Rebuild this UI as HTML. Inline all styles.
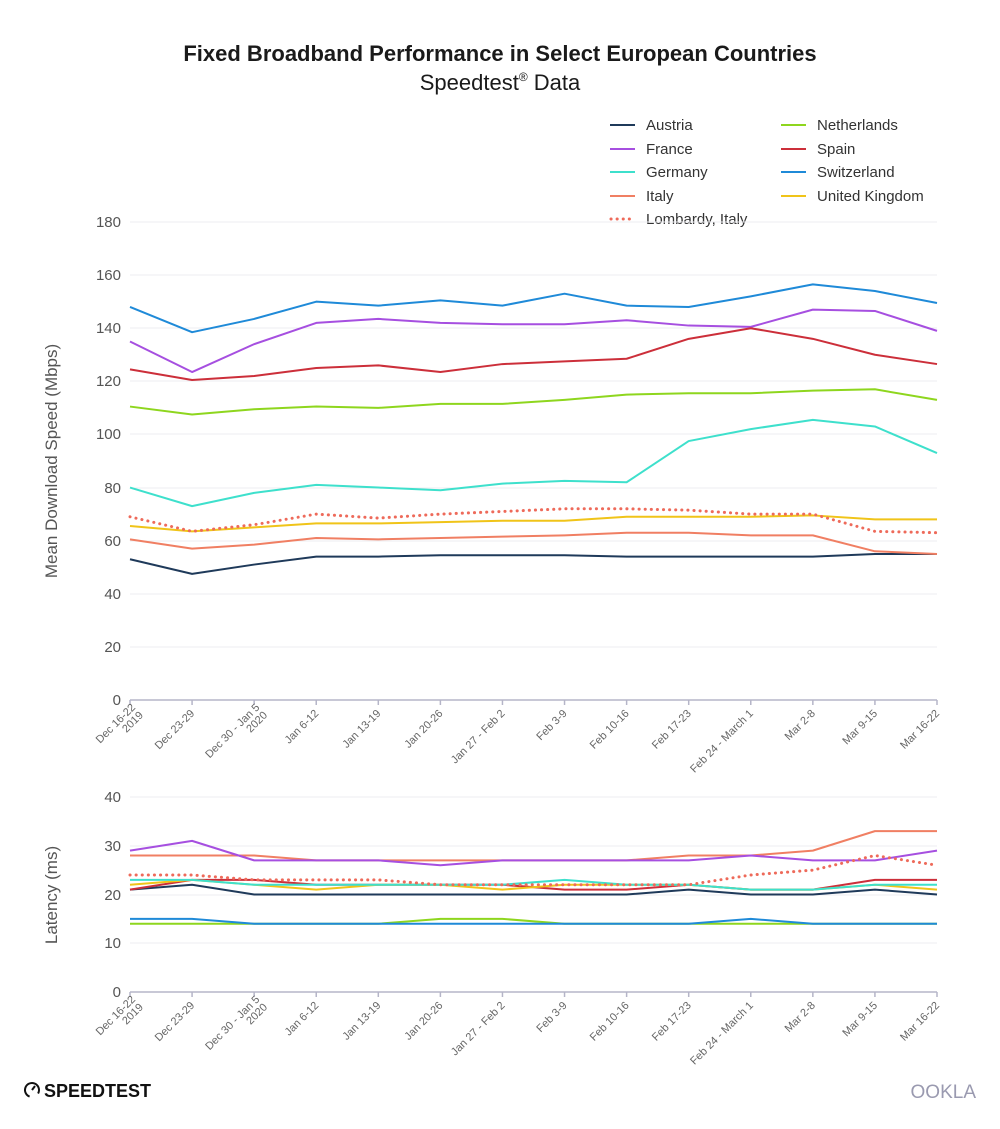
<!DOCTYPE html>
<html><head><meta charset="utf-8"><style>
body{margin:0;background:#fff}
svg{display:block;font-family:"Liberation Sans",sans-serif}
</style></head><body>
<svg width="1000" height="1129" viewBox="0 0 1000 1129">
<text x="500" y="61" text-anchor="middle" font-size="22" font-weight="bold" fill="#1a1a1a">Fixed Broadband Performance in Select European Countries</text>
<text x="500" y="90" text-anchor="middle" font-size="22" fill="#1a1a1a">Speedtest<tspan font-size="12" dy="-9">®</tspan><tspan dy="9"> Data</tspan></text>
<g font-size="15" fill="#333">
<line x1="610" y1="125" x2="635" y2="125" stroke="#1f3a5a" stroke-width="2"/><text x="646" y="130">Austria</text>
<line x1="610" y1="149" x2="635" y2="149" stroke="#a64fe0" stroke-width="2"/><text x="646" y="154">France</text>
<line x1="610" y1="172" x2="635" y2="172" stroke="#3ee0cc" stroke-width="2"/><text x="646" y="177">Germany</text>
<line x1="610" y1="196" x2="635" y2="196" stroke="#f07f63" stroke-width="2"/><text x="646" y="201">Italy</text>
<line x1="611" y1="219" x2="635" y2="219" stroke="#ee6a5a" stroke-width="3" stroke-linecap="round" stroke-dasharray="0.1 6"/><text x="646" y="224">Lombardy, Italy</text>
<line x1="781" y1="125" x2="806" y2="125" stroke="#8ed61e" stroke-width="2"/><text x="817" y="130">Netherlands</text>
<line x1="781" y1="149" x2="806" y2="149" stroke="#cc2f3a" stroke-width="2"/><text x="817" y="154">Spain</text>
<line x1="781" y1="172" x2="806" y2="172" stroke="#1f8ad8" stroke-width="2"/><text x="817" y="177">Switzerland</text>
<line x1="781" y1="196" x2="806" y2="196" stroke="#f0c419" stroke-width="2"/><text x="817" y="201">United Kingdom</text>
</g>
<g stroke="#ececf0" stroke-width="1">
<line x1="130" x2="937" y1="222" y2="222"/><line x1="130" x2="937" y1="275" y2="275"/><line x1="130" x2="937" y1="328" y2="328"/><line x1="130" x2="937" y1="381" y2="381"/><line x1="130" x2="937" y1="434" y2="434"/><line x1="130" x2="937" y1="488" y2="488"/><line x1="130" x2="937" y1="541" y2="541"/><line x1="130" x2="937" y1="594" y2="594"/><line x1="130" x2="937" y1="647" y2="647"/>
<line x1="130" x2="937" y1="797" y2="797"/><line x1="130" x2="937" y1="846" y2="846"/><line x1="130" x2="937" y1="895" y2="895"/><line x1="130" x2="937" y1="943" y2="943"/>
</g>
<g font-size="15" fill="#555" text-anchor="end">
<text x="121" y="227">180</text><text x="121" y="280">160</text><text x="121" y="333">140</text><text x="121" y="386">120</text><text x="121" y="439">100</text><text x="121" y="493">80</text><text x="121" y="546">60</text><text x="121" y="599">40</text><text x="121" y="652">20</text><text x="121" y="705">0</text>
<text x="121" y="802">40</text><text x="121" y="851">30</text><text x="121" y="900">20</text><text x="121" y="948">10</text><text x="121" y="997">0</text>
</g>
<text transform="translate(57,461) rotate(-90)" text-anchor="middle" font-size="17" fill="#555">Mean Download Speed (Mbps)</text>
<text transform="translate(57,895) rotate(-90)" text-anchor="middle" font-size="17" fill="#555">Latency (ms)</text>
<g stroke="#b5b5c8" stroke-width="1.5">
<line x1="130" x2="937" y1="700" y2="700"/><line x1="130" x2="937" y1="992" y2="992"/>
</g>
<g id="ticks" stroke="#b5b5c8" stroke-width="1.5"></g>
<g id="labels" font-size="11" fill="#666" text-anchor="end"></g>
<g id="gtop" transform="translate(130,700) scale(62.077,-2.6556)" fill="none" stroke-width="2" stroke-linejoin="round"></g>
<g id="gbot" transform="translate(130,992) scale(62.077,-4.875)" fill="none" stroke-width="2" stroke-linejoin="round"></g>
<g transform="translate(24,1090)">
<circle cx="8" cy="0" r="7" fill="none" stroke="#111" stroke-width="2" stroke-dasharray="34 10" transform="rotate(110 8 0)"/>
<line x1="8" y1="0" x2="11" y2="-4" stroke="#111" stroke-width="2"/>
<text x="20" y="7" font-size="18" font-weight="bold" fill="#111">SPEEDTEST</text>
</g>
<text x="976" y="1098" text-anchor="end" font-size="19" fill="#9a9ab0">OOKLA</text>
</svg>
<script>
(function(){
var ns="http://www.w3.org/2000/svg";
var labs=[["Dec 16-22","2019"],["Dec 23-29"],["Dec 30 - Jan 5","2020"],["Jan 6-12"],["Jan 13-19"],["Jan 20-26"],["Jan 27 - Feb 2"],["Feb 3-9"],["Feb 10-16"],["Feb 17-23"],["Feb 24 - March 1"],["Mar 2-8"],["Mar 9-15"],["Mar 16-22"]];
function el(t,a,p){var e=document.createElementNS(ns,t);for(var k in a)e.setAttribute(k,a[k]);p.appendChild(e);return e;}
var tk=document.getElementById("ticks"),lb=document.getElementById("labels");
[700,992].forEach(function(y0){labs.forEach(function(l,i){var x=130+i*62.077;el("line",{x1:x,x2:x,y1:y0,y2:y0+5},tk);
var t=el("text",{transform:"translate("+(x+3)+","+(y0+14)+") rotate(-45)"},lb);
if(l.length==1){t.textContent=l[0];}else{var a=el("tspan",{x:0,y:0},t);a.textContent=l[0];var b=el("tspan",{x:0,y:11},t);b.textContent=l[1];t.setAttribute("transform","translate("+(x+6)+","+(y0+8)+") rotate(-45)");}
});});
var C={A:"#1f3a5a",F:"#a64fe0",G:"#3ee0cc",I:"#f07f63",L:"#ee6a5a",N:"#8ed61e",S:"#cc2f3a",W:"#1f8ad8",U:"#f0c419"};
var dtop={A:[53,47.5,51,54,54,54.5,54.5,54.5,54,54,54,54,55,55],
F:[135,123.5,134,142,143.5,142,141.5,141.5,143,141,140.5,147,146.5,139],
G:[80,73,78,81,80,79,81.5,82.5,82,97.5,102,105.5,103,93],
I:[60.5,57,58.5,61,60.5,61,61.5,62,63,63,62,62,56,55],
N:[110.5,107.5,109.5,110.5,110,111.5,111.5,113,115,115.5,115.5,116.5,117,113],
S:[124.5,120.5,122,125,126,123.5,126.5,127.5,128.5,136,140,136,130,126.5],
W:[148,138.5,143.5,150,148.5,150.5,148.5,153,148.5,148,152,156.5,154,149.5],
U:[65.5,63.5,65,66.5,66.5,67,67.5,67.5,69,69,69,69.5,68,68],
L:[69,63.5,66,70,68.5,70,71,72,72,71.5,70,70,63.5,63]};
var dbot={N:[14,14,14,14,14,15,15,14,14,14,14,14,14,14],
W:[15,15,14,14,14,14,14,14,14,14,15,14,14,14],
A:[21,22,20,20,20,20,20,20,20,21,20,20,21,20],
S:[21,23,23,22,22,22,22,21,21,22,21,21,23,23],
U:[22,23,22,21,22,22,21,22,22,22,21,21,22,21],
G:[23,23,22,22,22,22,22,23,22,22,21,21,22,22],
I:[28,28,28,27,27,27,27,27,27,28,28,29,33,33],
F:[29,31,27,27,27,26,27,27,27,27,28,27,27,29],
L:[24,24,23,23,23,22,22,22,22,22,24,25,28,26]};
function draw(g,d){for(var k in d){var a={points:d[k].map(function(v,i){return i+","+v}).join(" "),stroke:C[k],"vector-effect":"non-scaling-stroke"};
if(k=="L"){a["stroke-width"]=3;a["stroke-dasharray"]="0.1 6";a["stroke-linecap"]="round";}
el("polyline",a,g);}}
draw(document.getElementById("gtop"),dtop);draw(document.getElementById("gbot"),dbot);
})();
</script>
</body></html>
